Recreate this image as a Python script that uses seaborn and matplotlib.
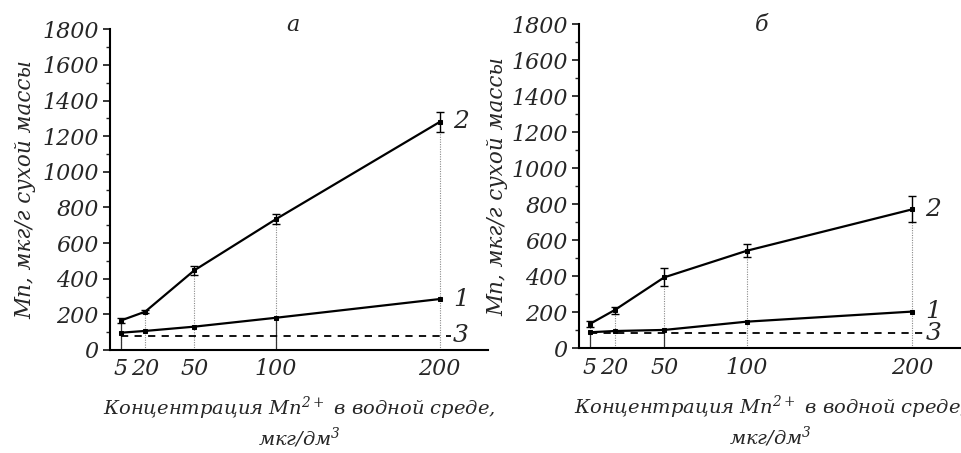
import matplotlib
matplotlib.use("Agg")
import matplotlib.pyplot as plt
from matplotlib.ticker import MultipleLocator
import seaborn as sns
import pandas as pd

# Mn2+ concentration in the water, mkg/dm3
conc = [5, 20, 50, 100, 200]
conc_labels = ["5", "20", "50", "100", "200"]

# Panel а
a_curve1 = [97, 107, 131, 181, 286]
a_curve2 = [165, 215, 447, 735, 1280]
a_curve2_err = [12, 10, 25, 28, 58]
a_background = 80

# Panel б
b_curve1 = [89, 96, 102, 148, 204]
b_curve2 = [135, 212, 394, 542, 772]
b_curve2_err = [14, 20, 50, 37, 72]
b_background = 85

y_ticks = [0, 200, 400, 600, 800, 1000, 1200, 1400, 1600, 1800]
y_labels = [str(v) for v in y_ticks]

sns.set_theme(style="ticks")
plt.rcParams["font.family"] = ["DejaVu Serif", "DejaVu Sans"]
plt.rcParams["font.style"] = "italic"
plt.rcParams["mathtext.fontset"] = "custom"
plt.rcParams["mathtext.rm"] = "DejaVu Serif:italic"
plt.rcParams["mathtext.it"] = "DejaVu Serif:italic"
plt.rcParams["mathtext.default"] = "it"

fig = plt.figure(figsize=(9.61, 4.53), dpi=100)
W, H = 961, 453


def px_axes(left, right, top, bottom):
    return fig.add_axes([left / W, 1 - bottom / H, (right - left) / W, (bottom - top) / H])


ax_a = px_axes(110, 488, 29.3, 350)
ax_b = px_axes(579, 961, 24.3, 348.3)

panels = [
    (ax_a, "а", a_curve1, a_curve2, a_curve2_err, a_background, [(0, 2), (3, 1)], 293, -0.195),
    (ax_b, "б", b_curve1, b_curve2, b_curve2_err, b_background, [(0, 1), (2, 1)], 762, -0.184),
]

xlabel_1 = "Концентрация Mn$^{2+}$ в водной среде,"
xlabel_2 = "мкг/дм$^{3}$"
ylabel = "Mn, мкг/г сухой массы"

for ax, title, c1, c2, c2err, bg, solid_drops, title_x, ylab_x in panels:
    df = pd.DataFrame({"conc": conc * 2,
                       "value": c1 + c2,
                       "curve": ["1"] * len(conc) + ["2"] * len(conc)})

    # drop lines from the axis up to curve 2
    for x, top in zip(conc, c2):
        ax.plot([x, x], [0, top], color="#8a8a8a", lw=0.8, ls=(0, (1, 1.2)), zorder=1)
    for i, which in solid_drops:
        top = (c1 if which == 1 else c2)[i]
        ax.plot([conc[i], conc[i]], [0, top], color="#333333", lw=0.9, zorder=1.5)

    # background level (curve 3)
    ax.hlines(bg, 5, 207, colors="black", linestyles=(0, (4, 3.5)), lw=1.3, zorder=2)

    sns.lineplot(data=df, x="conc", y="value", units="curve", estimator=None,
                 color="black", lw=1.6, marker="s", markersize=3.5,
                 markeredgecolor="black", ax=ax, legend=False, zorder=3)
    ax.errorbar(conc, c2, yerr=c2err, fmt="none", ecolor="black",
                elinewidth=1.0, capsize=3, capthick=1.0, zorder=3)

    # curve numbers
    ax.text(208, c2[-1], "2", fontsize=18, ha="left", va="center")
    ax.text(208, c1[-1], "1", fontsize=18, ha="left", va="center")
    ax.text(208, bg, "3", fontsize=18, ha="left", va="center")

    ax.set_xlim(-1.5, 229.5)
    ax.set_ylim(0, 1800)
    ax.set_xticks(conc, conc_labels, fontsize=16, fontstyle="italic")
    ax.set_yticks(y_ticks, y_labels, fontsize=16, fontstyle="italic")
    ax.yaxis.set_minor_locator(MultipleLocator(100))
    ax.tick_params(axis="x", length=0, pad=6)
    ax.tick_params(axis="y", which="major", direction="out", length=5, width=1.3, pad=3)
    ax.tick_params(axis="y", which="minor", direction="out", length=3, width=1.0)

    sns.despine(ax=ax)
    for side in ("left", "bottom"):
        ax.spines[side].set_linewidth(1.5)
        ax.spines[side].set_color("black")
    ax.set_facecolor("white")

    ax.set_ylabel(ylabel, fontsize=15.5)
    ax.yaxis.set_label_coords(ylab_x, 0.5)
    ax.set_xlabel(xlabel_1 + "\n" + xlabel_2, fontsize=14, linespacing=1.2)
    ax.xaxis.set_label_coords(0.5, -0.14)
    ax.xaxis.label.set_va("top")

    fig.text(title_x / W, 1 - 25 / H, title, fontsize=16, ha="center", va="center")

fig.savefig("out.png", dpi=100, facecolor="white")
